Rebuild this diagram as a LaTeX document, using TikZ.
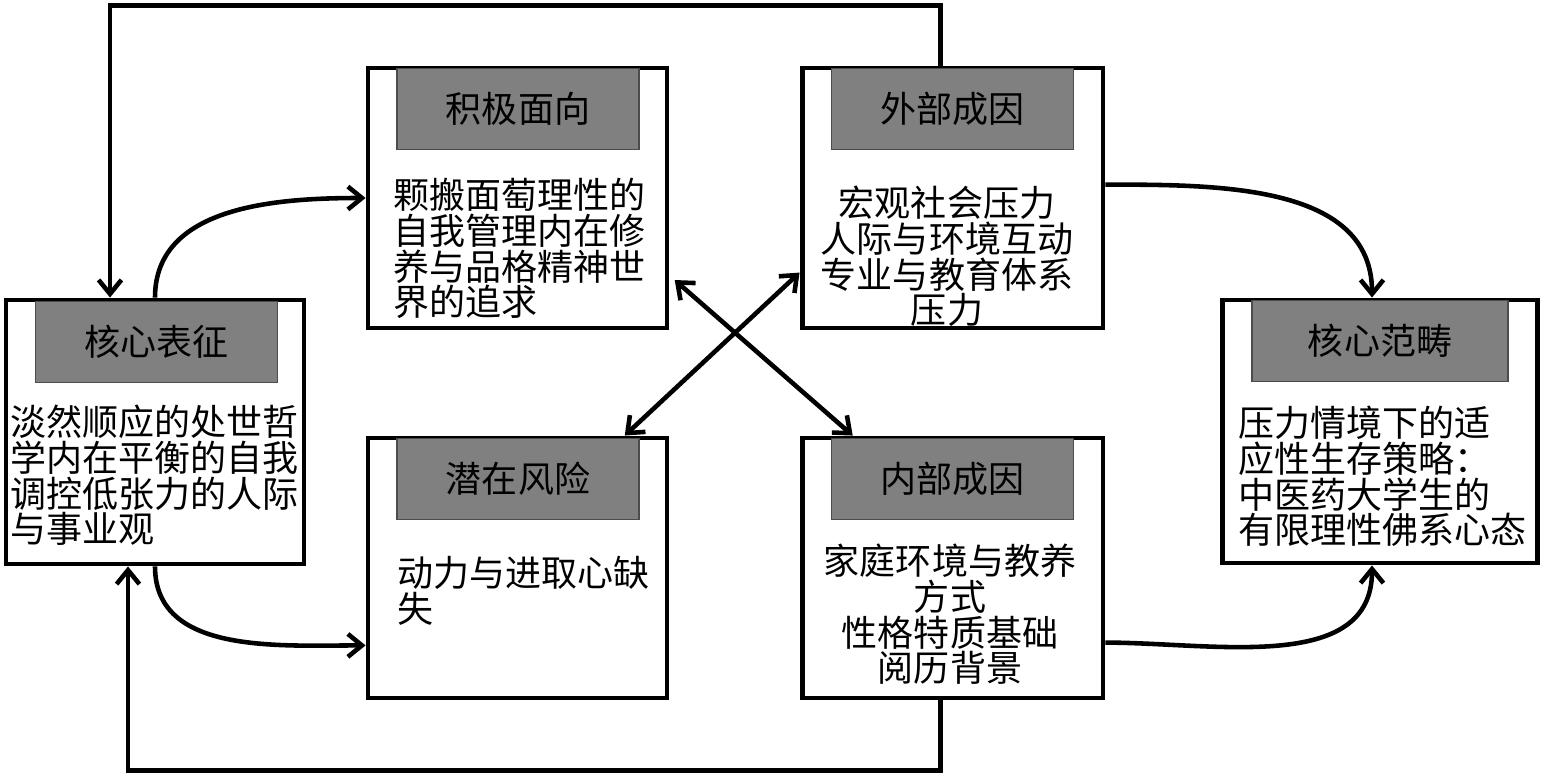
\documentclass[tikz,border=0pt]{standalone}
\usepackage{fontspec}
\newfontfamily\cjk{Noto Sans CJK SC}
\usetikzlibrary{arrows.meta, positioning, calc}

\begin{document}
\begin{tikzpicture}[x=0.02cm, y=0.02cm,
    box/.style={rectangle, draw, line width=2.8pt, inner sep=0pt},
    head/.style={rectangle, draw=black!70, line width=0.8pt, fill=black!50, anchor=north,
        minimum width=4.84cm, minimum height=1.62cm, inner sep=0pt,
        font=\cjk\fontsize{20.5}{22}\selectfont},
    body/.style={inner sep=0pt, align=left, anchor=north west,
        font=\cjk\fontsize{20.5}{20.3}\selectfont},
    arr/.style={line width=2.6pt, -{Straight Barb[length=8pt,width=13pt]}},
    dbl/.style={line width=2.6pt, {Straight Barb[length=8pt,width=13pt]}-{Straight Barb[length=8pt,width=13pt]}}]
    \useasboundingbox (0, 0) rectangle (1547, -776);

    % boxes
    \node[box, minimum width=5.96cm, minimum height=5.28cm] at (155, -432)    (core) {};
    \node[box, minimum width=5.98cm, minimum height=5.2cm]  at (517.5, -198)  (pos) {};
    \node[box, minimum width=6.02cm, minimum height=5.2cm]  at (952.5, -198)  (ext) {};
    \node[box, minimum width=5.98cm, minimum height=5.2cm]  at (517.5, -568)  (risk) {};
    \node[box, minimum width=6.02cm, minimum height=5.2cm]  at (952.5, -568)  (int) {};
    \node[box, minimum width=6.3cm, minimum height=5.26cm]  at (1380, -431.5) (cat) {};

    % headers
    \node[head] at (156.5, -301) (coreh) {核心表征};
    \node[head] at (518, -68)    (posh)  {积极面向};
    \node[head] at (952.5, -68)  (exth)  {外部成因};
    \node[head] at (518, -438)   (riskh) {潜在风险};
    \node[head] at (952.5, -438) (inth)  {内部成因};
    \node[head, minimum width=5.12cm] at (1380, -300) (cath) {核心范畴};

    % texts
    \node[body] at (10, -405) (coret) {淡然顺应的处世哲\\学内在平衡的自我\\调控低张力的人际\\与事业观};
    \node[body] at (393, -178) (post) {颗搬面萄理性的\\自我管理内在修\\养与品格精神世\\界的追求};
    \node[body, align=center, anchor=north] at (947, -186) (extt) {宏观社会压力\\人际与环境互动\\专业与教育体系\\压力};
    \node[body] at (397, -556) (riskt) {动力与进取心缺\\失};
    \node[body, align=center, anchor=north] at (950, -544) (intt) {家庭环境与教养\\方式\\性格特质基础\\阅历背景};
    \node[body] at (1238, -406) (catt) {压力情境下的适\\应性生存策略：\\中医药大学生的\\有限理性佛系心态};

    % connectors
    \draw[arr] ([xshift=-0.24cm]ext.north) -- ++(0, 60) -| ([xshift=-0.9cm]core.north);
    \draw[arr] ([xshift=-0.24cm]int.south) -- ++(0, -70) -| ([xshift=-0.54cm]core.south);
    \draw[arr] (core.north) to[out=90, in=180] (pos.west);
    \draw[arr] (core.south) to[out=-90, in=180] (risk.207);
    \draw[arr] (ext.5) to[out=0, in=90] ([xshift=-0.16cm]cat.north);
    \draw[arr] (int.-26.5) to[out=0, in=-90] ([xshift=-0.16cm]cat.south);
    \draw[dbl, shorten <=4pt] (pos.-27) -- (int.127);
    \draw[dbl] (ext.206) -- (risk.51);
\end{tikzpicture}
\end{document}
